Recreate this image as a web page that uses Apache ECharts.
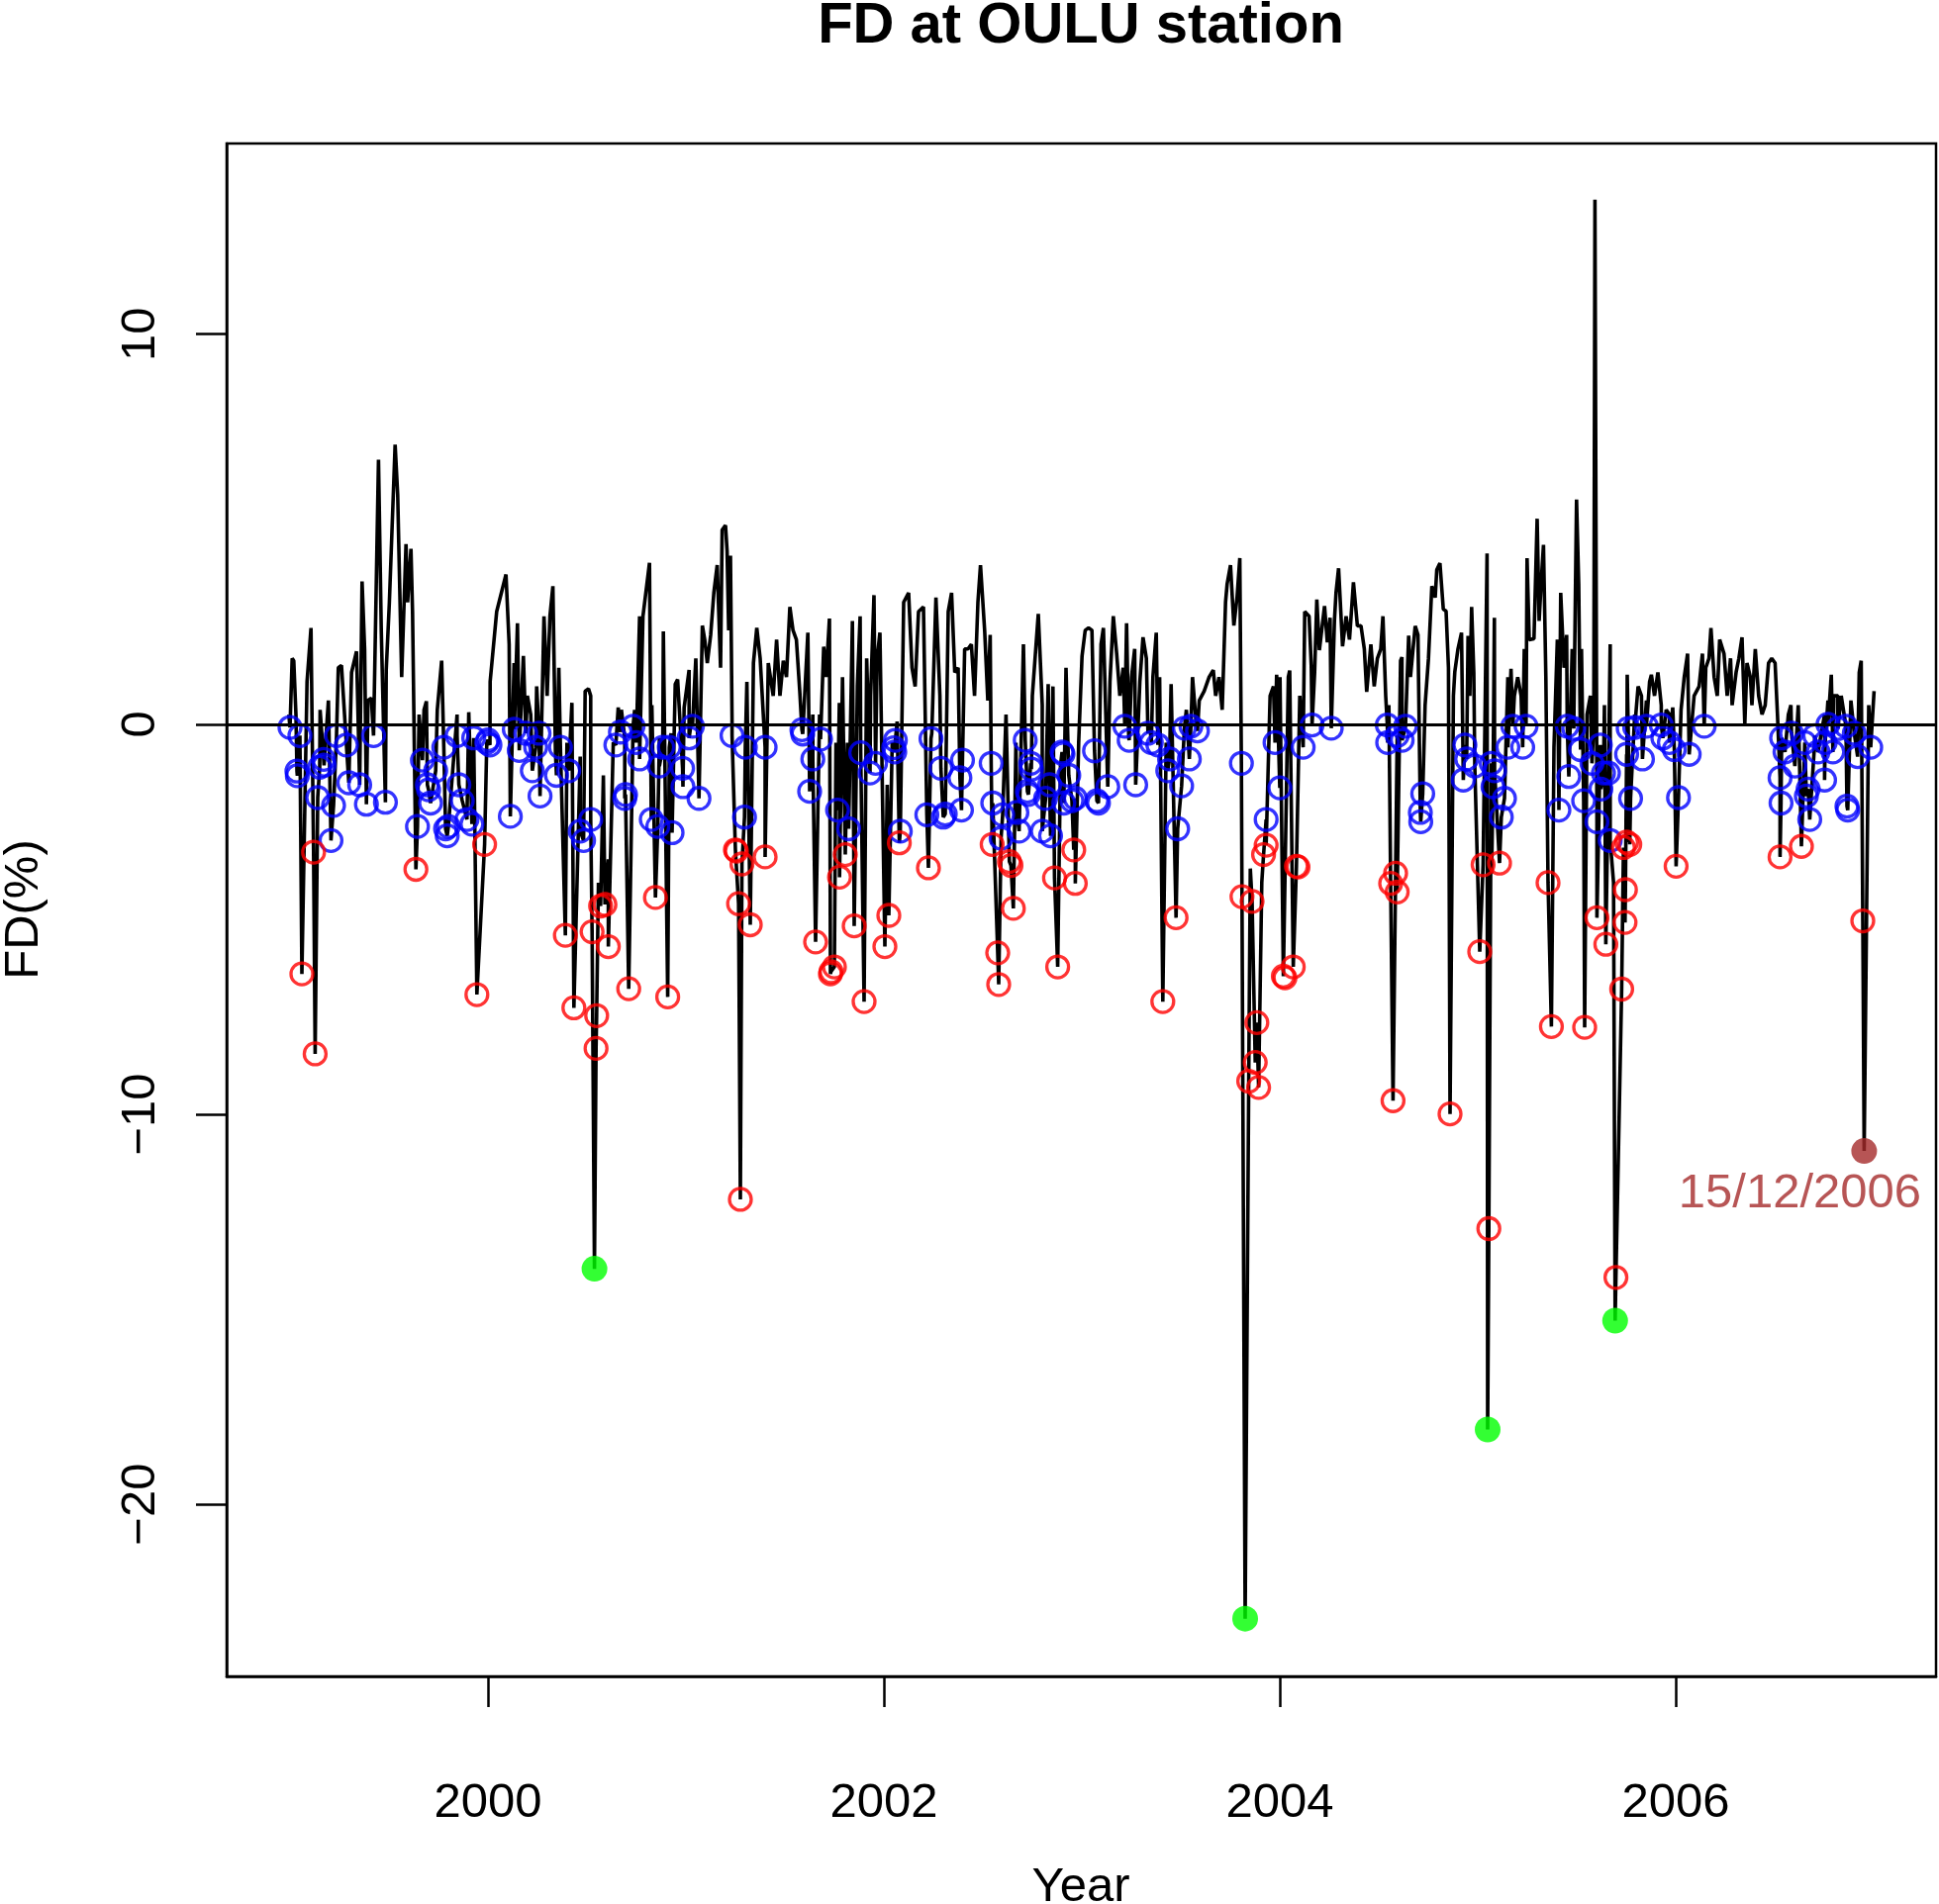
<!DOCTYPE html>
<html><head><meta charset="utf-8">
<script src="https://cdn.jsdelivr.net/npm/echarts@6/dist/echarts.min.js"></script>
<style>html,body{margin:0;padding:0;background:#fff}#c{width:1959px;height:1924px}</style>
</head><body><div id="c"></div>
<script>
const chartTitle = 'FD at OULU station';
const xTitle = 'Year';
const yTitle = 'FD(%)';
const xTicks = [2000, 2002, 2004, 2006];
const yTicks = [-20, -10, 0, 10];

// upper part of the daily FD trace (peaks and intermediate values)
const lineTrace = [
[1998.994,0.25],[1999.011,1.69],[1999.019,1.63],[1999.03,0.25],[1999.086,1.09],[1999.106,2.47],
[1999.152,0.37],[1999.194,0.61],[1999.244,1.45],[1999.26,1.51],[1999.311,1.33],[1999.336,1.87],
[1999.364,3.66],[1999.377,1.93],[1999.394,0.61],[1999.411,0.67],[1999.447,6.78],[1999.461,2.41],
[1999.486,1.39],[1999.502,3.13],[1999.531,7.17],[1999.544,5.88],[1999.564,1.21],[1999.586,4.62],
[1999.594,3.13],[1999.611,4.5],[1999.619,2.89],[1999.652,0.25],[1999.677,0.37],[1999.689,0.59],
[1999.744,0.37],[1999.766,1.63],[1999.844,0.25],[1999.903,0.31],[2000.011,1.09],[2000.044,2.89],
[2000.091,3.84],[2000.107,2.05],[2000.132,1.57],[2000.149,2.59],[2000.166,0.25],[2000.179,1.75],
[2000.199,0.73],[2000.216,0.25],[2000.246,0.97],[2000.283,2.77],[2000.299,0.73],[2000.313,2.77],
[2000.328,3.54],[2000.341,-0.71],[2000.358,1.45],[2000.399,-0.47],[2000.424,0.55],[2000.466,-0.83],
[2000.491,0.85],[2000.508,0.91],[2000.519,0.73],[2000.558,-4.06],[2000.583,-1.31],[2000.608,-3.46],
[2000.633,-0.47],[2000.658,0.43],[2000.674,0.37],[2000.691,-0.35],[2000.741,0.37],[2000.766,2.77],
[2000.783,2.77],[2000.816,4.14],[2000.828,0.49],[2000.866,-0.35],[2000.886,2.38],[2000.925,-0.23],
[2000.946,1.03],[2000.958,1.15],[2000.975,-0.35],[2000.991,0.43],[2001.016,1.39],[2001.033,0.25],
[2001.05,1.69],[2001.083,2.53],[2001.095,2.17],[2001.108,1.57],[2001.125,2.29],[2001.141,3.37],
[2001.158,4.08],[2001.175,1.45],[2001.183,4.98],[2001.2,5.1],[2001.208,4.44],[2001.216,2.41],
[2001.225,4.32],[2001.233,0.13],[2001.308,1.09],[2001.341,1.57],[2001.358,2.47],[2001.375,1.69],
[2001.416,1.57],[2001.441,0.73],[2001.458,2.17],[2001.475,0.73],[2001.492,1.63],[2001.508,1.21],
[2001.525,3.01],[2001.541,2.41],[2001.558,2.17],[2001.575,0.85],[2001.616,2.35],[2001.641,0.25],
[2001.675,0.25],[2001.696,1.99],[2001.708,1.21],[2001.725,2.71],[2001.758,-0.47],[2001.775,0.55],
[2001.791,1.21],[2001.816,-0.47],[2001.841,2.65],[2001.866,0.97],[2001.88,2.77],[2001.913,1.69],
[2001.933,0.73],[2001.95,3.31],[2001.966,1.69],[2001.98,2.35],[2002.017,-1.55],[2002.042,-0.47],
[2002.067,0.07],[2002.1,3.13],[2002.125,3.37],[2002.142,1.45],[2002.158,0.97],[2002.175,2.89],
[2002.2,3.01],[2002.242,-0.23],[2002.263,3.25],[2002.283,0.73],[2002.325,2.89],[2002.342,3.37],
[2002.358,1.33],[2002.375,1.45],[2002.408,1.93],[2002.425,1.93],[2002.442,2.05],[2002.458,0.73],
[2002.475,3.13],[2002.488,4.08],[2002.509,2.41],[2002.525,0.61],[2002.537,2.29],[2002.617,0.25],
[2002.667,-0.47],[2002.705,2.05],[2002.75,0.73],[2002.78,2.83],[2002.8,0.49],[2002.83,1.03],
[2002.854,0.97],[2002.892,-1.07],[2002.92,1.45],[2002.926,1.45],[2002.984,-0.47],[2003.001,1.75],
[2003.017,2.41],[2003.034,2.47],[2003.051,2.41],[2003.097,2.05],[2003.109,2.47],[2003.142,1.09],
[2003.159,2.77],[2003.176,1.81],[2003.192,0.73],[2003.209,1.45],[2003.226,2.59],[2003.237,-0.35],
[2003.251,1.21],[2003.267,1.93],[2003.293,1.09],[2003.309,2.23],[2003.326,1.69],[2003.343,0.01],
[2003.359,1.21],[2003.376,2.35],[2003.393,1.21],[2003.426,-0.47],[2003.451,1.03],[2003.528,0.37],
[2003.559,1.21],[2003.576,0.13],[2003.593,0.61],[2003.618,0.85],[2003.643,1.21],[2003.664,1.39],
[2003.676,0.73],[2003.693,1.21],[2003.709,0.37],[2003.726,3.13],[2003.734,3.6],[2003.751,4.08],
[2003.768,2.53],[2003.784,3.25],[2003.798,4.26],[2003.851,-3.7],[2003.909,-4.06],[2003.951,0.73],
[2003.968,0.97],[2003.984,1.27],[2004.001,1.21],[2004.043,1.21],[2004.05,1.38],[2004.101,0.73],
[2004.126,2.89],[2004.134,2.86],[2004.148,2.77],[2004.159,1.5],[2004.176,1.33],[2004.187,3.2],
[2004.2,1.9],[2004.226,3.03],[2004.24,2.1],[2004.254,2.73],[2004.276,2.65],[2004.284,3.37],
[2004.297,4.0],[2004.317,2.0],[2004.335,2.77],[2004.352,2.17],[2004.372,3.64],[2004.392,2.52],
[2004.41,2.53],[2004.427,1.93],[2004.439,0.83],[2004.46,2.05],[2004.477,0.97],[2004.493,1.69],
[2004.51,1.93],[2004.521,2.77],[2004.535,0.73],[2004.551,0.49],[2004.61,1.63],[2004.617,1.72],
[2004.651,2.27],[2004.66,1.21],[2004.684,2.52],[2004.698,2.29],[2004.734,0.49],[2004.751,1.68],
[2004.768,3.54],[2004.785,3.25],[2004.793,3.96],[2004.809,4.13],[2004.826,2.95],[2004.84,2.9],
[2004.852,1.45],[2004.877,0.73],[2004.884,1.34],[2004.9,1.93],[2004.918,2.35],[2004.951,2.27],
[2004.96,0.73],[2004.969,3.01],[2004.98,1.33],[2005.035,-0.47],[2005.047,4.38],[2005.07,-3.82],
[2005.084,2.73],[2005.152,1.21],[2005.168,1.42],[2005.185,0.73],[2005.202,1.21],[2005.219,0.73],
[2005.235,1.93],[2005.249,4.26],[2005.26,2.17],[2005.284,2.19],[2005.3,5.27],[2005.31,2.65],
[2005.32,3.6],[2005.332,4.6],[2005.344,1.21],[2005.385,-0.59],[2005.402,2.17],[2005.419,3.37],
[2005.436,1.45],[2005.449,2.29],[2005.477,1.93],[2005.499,5.76],[2005.51,3.6],[2005.524,1.93],
[2005.552,0.25],[2005.569,0.73],[2005.586,0.01],[2005.592,13.45],[2005.64,0.49],[2005.669,2.05],
[2005.686,-4.06],[2005.755,1.27],[2005.793,0.25],[2005.81,0.97],[2005.827,0.73],[2005.852,0.61],
[2005.868,1.09],[2005.877,1.27],[2005.893,0.73],[2005.91,1.33],[2005.927,0.49],[2005.952,0.37],
[2005.968,0.25],[2005.985,0.43],[2006.027,0.37],[2006.043,1.21],[2006.06,1.81],[2006.077,-0.23],
[2006.093,0.73],[2006.118,0.97],[2006.135,1.81],[2006.152,1.45],[2006.168,1.69],[2006.178,2.47],
[2006.194,1.21],[2006.21,0.73],[2006.222,2.17],[2006.244,1.81],[2006.26,0.73],[2006.277,1.69],
[2006.285,0.49],[2006.305,1.33],[2006.319,1.69],[2006.335,2.23],[2006.349,0.01],[2006.36,1.57],
[2006.377,1.21],[2006.385,0.49],[2006.402,1.93],[2006.419,0.73],[2006.436,0.25],[2006.452,0.49],
[2006.469,1.57],[2006.485,1.69],[2006.502,1.57],[2006.514,0.25],[2006.569,0.25],[2006.582,0.49],
[2006.619,0.49],[2006.702,-0.47],[2006.752,0.25],[2006.769,0.61],[2006.786,1.27],[2006.799,0.73],
[2006.819,0.73],[2006.836,0.73],[2006.885,0.61],[2006.927,1.33],[2006.937,1.63],[2006.975,0.49],
[2007.002,0.85]
];

const blueCircles = [
[1999.0,-0.08],[1999.035,-1.2],[1999.037,-1.32],[1999.05,-0.29],[1999.14,-1.88],[1999.15,-1.1],
[1999.17,-0.9],[1999.172,-1.05],[1999.207,-2.98],[1999.22,-2.08],[1999.235,-0.29],[1999.285,-0.53],
[1999.297,-1.5],[1999.352,-1.55],[1999.386,-2.05],[1999.422,-0.29],[1999.482,-2.0],
[1999.644,-2.62],[1999.669,-0.92],[1999.694,-1.55],[1999.70,-1.68],[1999.71,-2.02],[1999.736,-1.19],
[1999.777,-0.59],[1999.786,-2.68],[1999.794,-2.86],[1999.80,-2.62],[1999.844,-0.29],[1999.853,-1.55],
[1999.87,-1.96],[1999.894,-2.44],[1999.919,-2.56],[1999.928,-0.35],[1999.994,-0.47],[2000.0,-0.4],
[2000.01,-0.53],[2000.113,-2.36],[2000.133,-0.13],[2000.158,-0.67],[2000.191,-0.23],[2000.224,-1.19],
[2000.241,-0.59],[2000.258,-0.23],[2000.263,-1.84],[2000.346,-1.31],[2000.366,-0.59],[2000.408,-1.19],
[2000.466,-2.74],[2000.483,-2.98],[2000.519,-2.44],[2000.646,-0.53],[2000.669,-0.2],[2000.691,-1.9],
[2000.695,-1.8],[2000.733,-0.05],[2000.749,-0.47],[2000.766,-0.89],[2000.825,-2.44],[2000.858,-2.62],
[2000.866,-1.07],[2000.883,-0.59],[2000.916,-0.59],[2000.93,-2.78],[2000.983,-1.13],[2000.985,-1.6],
[2001.016,-0.35],[2001.033,-0.05],[2001.066,-1.9],[2001.233,-0.29],[2001.296,-2.38],[2001.3,-0.59],
[2001.4,-0.59],[2001.586,-0.14],[2001.59,-0.25],[2001.625,-1.72],[2001.641,-0.89],[2001.68,-0.38],
[2001.766,-2.2],[2001.822,-2.68],[2001.883,-0.73],[2001.93,-1.25],[2001.958,-1.0],
[2002.05,-0.6],[2002.055,-0.71],[2002.058,-0.41],[2002.083,-2.74],[2002.217,-2.32],[2002.238,-0.37],
[2002.288,-1.13],[2002.3,-2.38],[2002.31,-2.3],[2002.384,-1.37],[2002.392,-2.2],[2002.397,-0.92],
[2002.542,-1.0],[2002.55,-2.02],[2002.592,-2.92],[2002.6,-2.32],[2002.672,-2.26],[2002.683,-2.74],
[2002.714,-0.41],[2002.725,-1.72],[2002.73,-1.8],[2002.742,-1.0],[2002.745,-1.15],[2002.8,-2.74],
[2002.817,-1.9],[2002.837,-1.55],[2002.842,-2.86],[2002.9,-0.71],[2002.905,-0.76],[2002.909,-2.02],
[2002.934,-1.31],[2002.95,-1.96],[2002.967,-1.9],
[2003.064,-0.68],[2003.076,-1.96],[2003.084,-2.02],[2003.131,-1.6],[2003.217,-0.05],[2003.239,-0.41],
[2003.272,-1.55],[2003.334,-0.23],[2003.351,-0.47],[2003.384,-0.53],[2003.434,-1.19],[2003.443,-0.89],
[2003.484,-2.68],[2003.504,-1.58],[2003.518,-0.1],[2003.543,-0.89],[2003.551,-0.05],[2003.584,-0.17],
[2003.806,-1.0],[2003.931,-2.44],[2003.976,-0.47],[2004.0,-1.63],
[2004.118,-0.59],[2004.163,-0.02],[2004.26,-0.1],[2004.543,-0.02],[2004.545,-0.47],[2004.593,-0.29],
[2004.618,-0.41],[2004.635,-0.05],[2004.71,-2.26],[2004.712,-2.5],[2004.722,-1.78],[2004.927,-1.43],
[2004.935,-0.53],[2004.944,-0.89],[2004.985,-1.07],
[2005.068,-1.0],[2005.077,-1.6],[2005.085,-1.19],[2005.119,-2.38],[2005.135,-1.9],[2005.152,-0.59],
[2005.177,-0.05],[2005.227,-0.59],[2005.244,-0.05],[2005.41,-2.2],[2005.452,-0.05],[2005.46,-1.34],
[2005.485,-0.11],[2005.519,-0.65],[2005.535,-1.96],[2005.577,-1.0],[2005.602,-2.5],[2005.619,-0.53],
[2005.622,-1.66],[2005.635,-1.25],[2005.66,-1.25],[2005.669,-2.98],[2005.752,-0.77],[2005.76,-0.11],
[2005.772,-1.9],[2005.793,-0.08],[2005.832,-0.89],[2005.852,-0.05],[2005.927,-0.02],[2005.935,-0.35],
[2005.968,-0.47],[2005.993,-0.65],[2006.014,-1.88],[2006.068,-0.77],[2006.144,-0.05],
[2006.527,-1.37],[2006.532,-2.02],[2006.535,-0.35],[2006.552,-0.71],[2006.585,-0.23],[2006.602,-1.07],
[2006.652,-0.47],[2006.66,-1.84],[2006.669,-1.66],[2006.677,-2.44],[2006.702,-0.29],[2006.719,-0.71],
[2006.752,-1.43],[2006.755,-0.47],[2006.769,0],[2006.794,-0.71],[2006.819,-0.11],[2006.86,-0.05],
[2006.865,-2.1],[2006.869,-2.2],[2006.902,-0.23],[2006.919,-0.83],[2006.985,-0.59]
];

const redCircles = [
[1999.06,-6.4],[1999.119,-3.28],[1999.127,-8.45],[1999.636,-3.72],[1999.944,-6.93],[1999.983,-3.08],
[2000.391,-5.41],[2000.434,-7.27],[2000.526,-5.32],[2000.546,-8.31],[2000.549,-7.47],[2000.569,-4.66],
[2000.591,-4.62],[2000.608,-5.7],[2000.711,-6.78],[2000.846,-4.44],[2000.908,-6.99],
[2001.25,-3.22],[2001.255,-3.25],[2001.266,-4.6],[2001.275,-12.18],[2001.283,-3.58],[2001.325,-5.14],
[2001.4,-3.4],[2001.655,-5.58],[2001.73,-6.4],[2001.733,-6.34],[2001.75,-6.22],[2001.776,-3.92],
[2001.805,-3.34],[2001.85,-5.17],[2001.9,-7.11],[2002.005,-5.7],[2002.025,-4.9],[2002.078,-3.04],
[2002.225,-3.68],[2002.547,-3.08],[2002.575,-5.86],[2002.58,-6.67],[2002.634,-3.52],[2002.642,-3.62],
[2002.654,-4.72],[2002.862,-3.94],[2002.878,-6.22],[2002.959,-3.22],[2002.967,-4.08],
[2003.409,-7.11],[2003.476,-4.96],[2003.809,-4.42],[2003.843,-9.15],[2003.86,-4.54],[2003.876,-8.67],
[2003.884,-7.65],[2003.893,-9.31],[2003.918,-3.34],[2003.931,-3.1],[2004.018,-6.46],[2004.026,-6.5],
[2004.068,-6.22],[2004.084,-3.64],[2004.092,-3.66],
[2004.56,-4.08],[2004.572,-9.65],[2004.585,-3.82],[2004.593,-4.3],[2004.86,-9.99],[2005.01,-5.83],
[2005.027,-3.6],[2005.056,-12.93],[2005.11,-3.56],[2005.355,-4.06],[2005.372,-7.75],[2005.54,-7.77],
[2005.602,-4.96],[2005.647,-5.64],[2005.698,-14.18],[2005.727,-6.79],[2005.736,-3.16],[2005.744,-5.08],
[2005.746,-4.24],[2005.752,-3.02],[2005.768,-3.08],
[2006.002,-3.64],[2006.527,-3.4],[2006.635,-3.13],[2006.945,-5.04]
];

const greenPoints = [[2000.538,-13.96],[2003.825,-22.93],[2005.05,-18.08],[2005.694,-15.29]];
const brownPoint = [[2006.952,-10.94]];
const brownLabel = '15/12/2006';

const FONT = "'Liberation Sans', Arial, Helvetica, sans-serif";
const fullTrace = lineTrace.concat(blueCircles, redCircles, greenPoints, brownPoint)
  .slice().sort((a, b) => a[0] - b[0]);

const chart = echarts.init(document.getElementById('c'), null, {renderer: 'canvas'});
chart.setOption({
  animation: false,
  backgroundColor: '#fff',
  grid: {left: 229, right: 3, top: 145, bottom: 230, show: true, borderColor: '#000', borderWidth: 2.5,
         containLabel: false, outerBoundsMode: 'none'},
  xAxis: {
    type: 'value', min: 1998.68, max: 2007.315,
    splitLine: {show: false},
    axisLine: {show: true, onZero: false, lineStyle: {color: '#000', width: 2.5}},
    axisTick: {show: true, customValues: xTicks, length: 31, inside: false, lineStyle: {color: '#000', width: 2.5}},
    axisLabel: {customValues: xTicks, fontSize: 49, fontFamily: FONT, color: '#000', margin: 104,
                formatter: v => String(Math.round(v))}
  },
  yAxis: {
    type: 'value', min: -24.41, max: 14.89,
    splitLine: {show: false},
    axisLine: {show: true, onZero: false, lineStyle: {color: '#000', width: 2.5}},
    axisTick: {show: true, customValues: yTicks, length: 31, inside: false, lineStyle: {color: '#000', width: 2.5}},
    axisLabel: {customValues: yTicks, rotate: 90, fontSize: 49, fontFamily: FONT, color: '#000', margin: 62,
                formatter: v => (v < 0 ? '\u2212' + Math.abs(Math.round(v)) : String(Math.round(v)))}
  },
  graphic: [
    {type: 'text', x: 1092, y: 27, style: {text: chartTitle, font: 'bold 58px ' + FONT, fill: '#000',
      textAlign: 'center', textVerticalAlign: 'middle'}},
    {type: 'text', x: 1092, y: 1907, style: {text: xTitle, font: '49px ' + FONT, fill: '#000',
      textAlign: 'center', textVerticalAlign: 'middle'}},
    {type: 'text', x: 24, y: 919, rotation: Math.PI / 2, style: {text: yTitle, font: '49px ' + FONT, fill: '#000',
      textAlign: 'center', textVerticalAlign: 'middle'}}
  ],
  series: [
    {type: 'line', data: fullTrace, showSymbol: false, symbol: 'none', silent: true,
     lineStyle: {color: '#000', width: 3.6}, z: 2,
     markLine: {silent: true, symbol: ['none', 'none'], label: {show: false},
                lineStyle: {color: '#000', width: 3, type: 'solid'}, data: [{yAxis: 0}]}},
    {type: 'scatter', data: blueCircles, symbol: 'circle', symbolSize: 22, z: 3,
     itemStyle: {color: 'rgba(0,0,0,0)', borderColor: '#0000ff', borderWidth: 3.3}},
    {type: 'scatter', data: redCircles, symbol: 'circle', symbolSize: 22, z: 3,
     itemStyle: {color: 'rgba(0,0,0,0)', borderColor: '#ff0000', borderWidth: 3.3}},
    {type: 'scatter', data: greenPoints, symbol: 'circle', symbolSize: 26, z: 4,
     itemStyle: {color: '#00ff00'}},
    {type: 'scatter', data: brownPoint, symbol: 'circle', symbolSize: 26, z: 4,
     itemStyle: {color: '#a52a2a'},
     label: {show: true, formatter: brownLabel, position: 'bottom', distance: 6, offset: [-65, 0],
             color: '#a52a2a', fontSize: 49, fontFamily: FONT}}
  ]
});
</script>
</body></html>
